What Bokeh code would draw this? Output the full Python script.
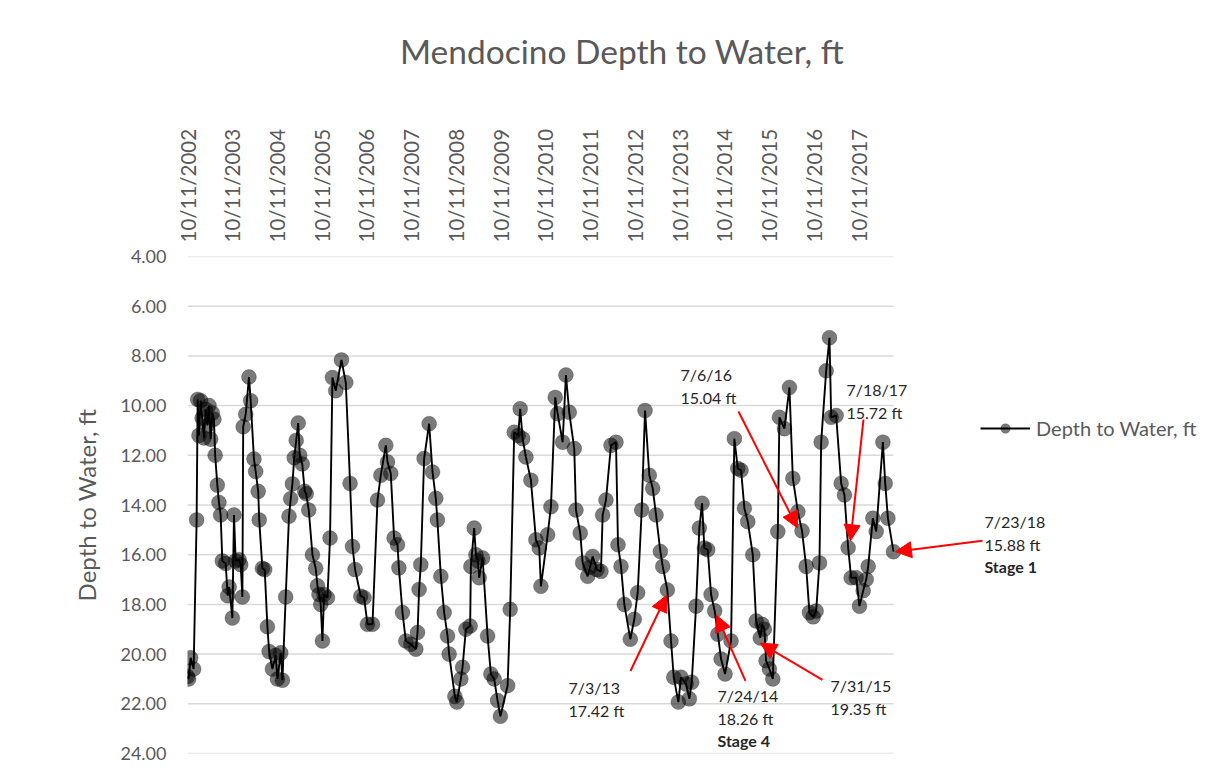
import math
from bokeh.plotting import figure
from bokeh.layouts import column
from bokeh.models import (Range1d, FixedTicker, NumeralTickFormatter, CustomJSTickFormatter,
                          Label, Arrow, NormalHead, Legend, LegendItem, ColumnDataSource)
from bokeh.embed import file_html
from bokeh.resources import INLINE

# ---- data (decimal years, depth to water in ft) ----
t_years = [
    2002.775, 2002.800, 2002.845, 2002.912, 2002.979, 2003.002, 2003.031, 2003.069, 2003.102, 2003.143,
    2003.181, 2003.219, 2003.255, 2003.293, 2003.331, 2003.366, 2003.393, 2003.442, 2003.478, 2003.516,
    2003.554, 2003.628, 2003.673, 2003.706, 2003.778, 2003.814, 2003.852, 2003.926, 2003.964, 2004.002,
    2004.020, 2004.076, 2004.149, 2004.187, 2004.261, 2004.299, 2004.355, 2004.378, 2004.449, 2004.501,
    2004.561, 2004.600, 2004.673, 2004.747, 2004.785, 2004.859, 2004.897, 2004.970, 2005.044, 2005.082,
    2005.120, 2005.161, 2005.205, 2005.250, 2005.284, 2005.340, 2005.395, 2005.429, 2005.485, 2005.568,
    2005.641, 2005.680, 2005.715, 2005.753, 2005.791, 2005.827, 2005.903, 2005.961, 2006.015, 2006.089,
    2006.216, 2006.313, 2006.409, 2006.463, 2006.521, 2006.648, 2006.722, 2006.798, 2006.910, 2007.022,
    2007.096, 2007.208, 2007.246, 2007.319, 2007.393, 2007.469, 2007.500, 2007.581, 2007.655, 2007.767,
    2007.879, 2007.917, 2007.952, 2007.990, 2008.064, 2008.176, 2008.252, 2008.326, 2008.360, 2008.438,
    2008.512, 2008.588, 2008.623, 2008.751, 2008.796, 2008.885, 2008.923, 2008.997, 2009.093, 2009.109,
    2009.183, 2009.221, 2009.266, 2009.295, 2009.371, 2009.483, 2009.556, 2009.630, 2009.706, 2009.769,
    2009.930, 2009.988, 2010.078, 2010.167, 2010.212, 2010.266, 2010.339, 2010.451, 2010.563, 2010.637,
    2010.675, 2010.825, 2010.899, 2010.995, 2011.049, 2011.160, 2011.234, 2011.308, 2011.420, 2011.458,
    2011.554, 2011.608, 2011.720, 2011.771, 2011.832, 2011.928, 2012.017, 2012.055, 2012.129, 2012.241,
    2012.353, 2012.398, 2012.465, 2012.539, 2012.673, 2012.762, 2012.838, 2012.928, 2013.002, 2013.098,
    2013.174, 2013.248, 2013.344, 2013.398, 2013.501, 2013.583, 2013.644, 2013.747, 2013.807, 2013.919,
    2013.993, 2014.046, 2014.143, 2014.216, 2014.277, 2014.328, 2014.404, 2014.478, 2014.559, 2014.630,
    2014.702, 2014.791, 2014.925, 2014.999, 2015.075, 2015.149, 2015.223, 2015.299, 2015.411, 2015.485,
    2015.578, 2015.620, 2015.670, 2015.708, 2015.782, 2015.858, 2015.970, 2016.006, 2016.118, 2016.230,
    2016.306, 2016.418, 2016.511, 2016.603, 2016.677, 2016.760, 2016.827, 2016.901, 2016.939, 2017.051,
    2017.125, 2017.163, 2017.274, 2017.386, 2017.460, 2017.542, 2017.610, 2017.722, 2017.796, 2017.878,
    2017.946, 2017.990, 2018.095, 2018.169, 2018.319, 2018.371, 2018.431, 2018.556,
]
depth_ft = [
    20.90, 21.00, 20.15, 20.60, 14.60, 9.75, 11.20, 9.80, 10.50, 11.30,
    10.15, 10.80, 10.00, 11.35, 10.30, 10.55, 12.00, 13.20, 13.90, 14.40,
    16.25, 16.35, 17.65, 17.30, 18.55, 14.40, 16.25, 16.20, 16.40, 17.70,
    10.85, 10.35, 8.85, 9.80, 12.15, 12.65, 13.45, 14.60, 16.55, 16.60,
    18.90, 19.90, 20.60, 20.05, 21.00, 19.95, 21.05, 17.70, 14.45, 13.75,
    13.15, 12.10, 11.40, 10.70, 12.00, 12.35, 13.45, 13.55, 14.20, 16.00,
    16.55, 17.25, 17.60, 18.00, 19.47, 17.60, 17.73, 15.33, 8.87, 9.40,
    8.16, 9.07, 13.13, 15.67, 16.60, 17.67, 17.73, 18.80, 18.80, 13.80,
    12.80, 11.60, 12.27, 12.73, 15.33, 15.60, 16.53, 18.33, 19.47, 19.60,
    19.80, 19.13, 17.40, 16.40, 12.13, 10.73, 12.67, 13.73, 14.60, 16.87,
    18.33, 19.27, 20.00, 21.70, 21.93, 21.00, 20.53, 19.00, 18.87, 16.47,
    14.93, 16.00, 16.25, 16.93, 16.13, 19.27, 20.80, 21.00, 21.87, 22.50,
    21.27, 18.20, 11.07, 11.20, 10.13, 11.33, 12.07, 13.00, 15.40, 15.73,
    17.27, 15.20, 14.07, 9.67, 10.33, 11.47, 8.77, 10.27, 11.73, 14.20,
    15.13, 16.33, 16.87, 16.50, 16.07, 16.60, 16.67, 14.40, 13.80, 11.60,
    11.47, 15.60, 16.47, 18.00, 19.40, 18.60, 17.53, 14.20, 10.20, 12.80,
    13.33, 14.40, 15.87, 16.47, 17.42, 19.47, 20.93, 21.93, 20.93, 21.20,
    21.80, 21.13, 18.07, 14.93, 13.93, 15.73, 15.80, 17.60, 18.26, 19.20,
    20.20, 20.80, 19.47, 11.33, 12.53, 12.60, 14.13, 14.67, 16.00, 18.67,
    19.35, 18.80, 19.00, 20.27, 20.60, 21.00, 15.07, 10.47, 10.93, 9.27,
    12.93, 14.27, 15.04, 16.47, 18.33, 18.50, 18.27, 16.33, 11.47, 8.60,
    7.27, 10.47, 10.40, 13.13, 13.60, 15.72, 16.93, 16.93, 18.07, 17.45,
    17.00, 16.47, 14.53, 15.07, 11.47, 13.13, 14.53, 15.88,
]
tick_years = list(range(2002, 2018))          # labels "10/11/YYYY"
y_ticks = [4, 6, 8, 10, 12, 14, 16, 18, 20, 22, 24]

title_text = "Mendocino Depth to Water, ft"
series_name = "Depth to Water, ft"

FONT = "Lato"
GRAY = "#595959"

W = 1212
TITLE_H = 100
H = 763 - TITLE_H
LEFT, TOP, BOTTOM = 187, 156, 10
PLOT_W = 706            # width of the dated part of the plot area

# ---------------- title strip (pixel coordinates) ----------------
tf = figure(width=W, height=TITLE_H, x_range=Range1d(LEFT, W), y_range=Range1d(TITLE_H, 0),
            x_axis_type=None, y_axis_type=None,
            output_backend="svg", toolbar_location=None,
            min_border_left=LEFT, min_border_right=0, min_border_top=0, min_border_bottom=0)
tf.grid.visible = False
tf.outline_line_color = None
tf.border_fill_color = "white"
tf.add_layout(Label(x=621.5, y=50, text=title_text, text_align="center",
                    text_baseline="middle", text_font=FONT, text_font_size="33.5px",
                    text_color=GRAY))

# ---------------- main chart ----------------
tick_pos = [y + 0.775 for y in tick_years]
t0, t1 = t_years[0], t_years[-1]
# frame continues to the right edge so the side notes and legend are not clipped
x_end = t0 + (t1 - t0) * (W - LEFT) / PLOT_W

src = ColumnDataSource(dict(t=t_years, d=depth_ft))

p = figure(width=W, height=H,
           x_range=Range1d(t0, x_end), y_range=Range1d(24, 4),
           x_axis_location="above",
           output_backend="svg", toolbar_location=None,
           min_border_left=LEFT, min_border_right=0,
           min_border_top=TOP, min_border_bottom=BOTTOM)
p.outline_line_color = None
p.background_fill_color = "white"
p.border_fill_color = "white"

xa = p.xaxis[0]
xa.ticker = FixedTicker(ticks=tick_pos)
xa.formatter = CustomJSTickFormatter(code="return '10/11/' + Math.floor(tick);")
xa.major_label_orientation = math.pi / 2
xa.axis_line_color = None
xa.major_tick_line_color = None
xa.minor_tick_line_color = None
xa.major_tick_out = 0
xa.major_tick_in = 0
xa.major_label_standoff = 14
xa.major_label_text_font = FONT
xa.major_label_text_font_size = "20.5px"
xa.major_label_text_color = GRAY

ya = p.yaxis[0]
ya.ticker = FixedTicker(ticks=y_ticks)
ya.formatter = NumeralTickFormatter(format="0.00")
ya.axis_line_color = None
ya.major_tick_line_color = None
ya.minor_tick_line_color = None
ya.major_tick_out = 0
ya.major_tick_in = 0
ya.major_label_standoff = 21
ya.major_label_text_font = FONT
ya.major_label_text_font_size = "18px"
ya.major_label_text_color = GRAY
ya.axis_label = series_name
ya.axis_label_text_font = FONT
ya.axis_label_text_font_size = "24px"
ya.axis_label_text_font_style = "normal"
ya.axis_label_text_color = GRAY
ya.axis_label_standoff = 16

p.xgrid.visible = False
p.ygrid.visible = False

# horizontal gridlines over the dated span only
p.segment(x0=[t0] * len(y_ticks), x1=[t1] * len(y_ticks), y0=y_ticks, y1=y_ticks,
          line_color="#d9d9d9", line_width=1.5)

# series
line_r = p.line("t", "d", source=src, line_color="black", line_width=1.9)
sc_r = p.scatter("t", "d", source=src, marker="circle", size=15,
                 fill_color="black", fill_alpha=0.52, line_color="black", line_alpha=0.2)

legend = Legend(items=[LegendItem(label=series_name, renderers=[line_r, sc_r])],
                location=(793, 313), orientation="vertical",
                glyph_width=50, glyph_height=24, label_standoff=6,
                padding=0, margin=0, border_line_color=None, background_fill_alpha=0,
                label_text_font=FONT, label_text_font_size="20px", label_text_color=GRAY)
p.add_layout(legend)

# annotations: (lines, x_left, y_first_line, bold_last, arrow start, arrow end)
ann = [
    (["7/3/13", "17.42 ft"], 2011.291, 21.36, False, (2012.677, 20.68), (2013.481, 17.64)),
    (["7/24/14", "18.26 ft", "Stage 4"], 2014.621, 21.68, True, (2015.247, 21.08), (2014.599, 18.44)),
    (["7/31/15", "19.35 ft"], 2017.147, 21.28, False, (2016.968, 21.04), (2015.582, 19.56)),
    (["7/6/16", "15.04 ft"], 2013.794, 8.76, False, (2015.091, 10.24), (2016.409, 14.92)),
    (["7/18/17", "15.72 ft"], 2017.504, 9.36, False, (2017.885, 10.56), (2017.594, 15.44)),
    (["7/23/18", "15.88 ft", "Stage 1"], 2020.589, 14.68, True, (2020.544, 15.44), (2018.600, 15.88)),
]
LINE_STEP = 0.9  # depth units between text lines
for lines, x0, y0, bold_last, (xs, ys), (xe, ye) in ann:
    for i, t in enumerate(lines):
        bold = bold_last and i == len(lines) - 1
        p.add_layout(Label(x=x0, y=y0 + i * LINE_STEP, text=t, text_align="left",
                           text_baseline="middle", text_font=FONT,
                           text_font_size="16px", text_color="#262626",
                           text_font_style="bold" if bold else "normal"))
    p.add_layout(Arrow(x_start=xs, y_start=ys, x_end=xe, y_end=ye,
                       line_color="#ff0000", line_width=2,
                       end=NormalHead(size=16, fill_color="#ff0000", line_color="#ff0000")))

layout = column(tf, p, spacing=0)
open("out.html", "w").write(file_html(layout, INLINE))
